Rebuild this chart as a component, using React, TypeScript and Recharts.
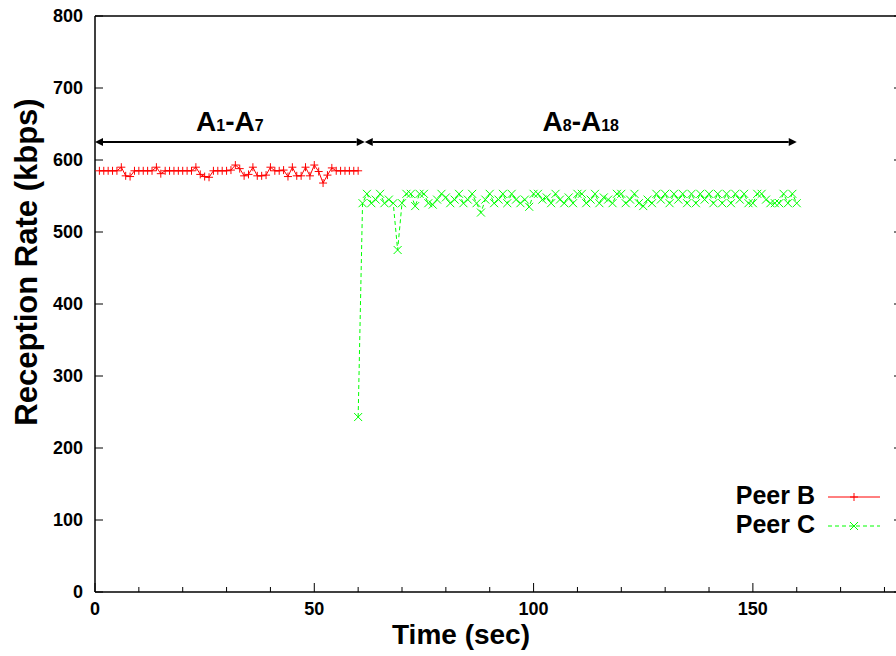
import React from 'react';
import { LineChart, Line, XAxis, YAxis, ReferenceLine, Legend } from 'recharts';

// Peer B: one sample per second, starting at t = 1 s
const peerBStart = 1;
const peerBRate = [
  585, 585, 585, 585, 585, 590, 578, 577, 585, 585,
  585, 585, 585, 590, 581, 585, 585, 585, 585, 585,
  585, 585, 590, 580, 577, 576, 585, 585, 585, 585,
  586, 593, 588, 578, 580, 590, 578, 578, 579, 590,
  585, 585, 586, 577, 590, 578, 578, 590, 578, 593,
  584, 568, 579, 589, 585, 585, 585, 585, 585, 585,
];

// Peer C: one sample per second, starting at t = 60 s
const peerCStart = 60;
const peerCRate = [
  243, 540, 553, 540, 545, 553, 540, 545, 540, 475,
  540, 553, 553, 536, 553, 553, 540, 538, 545, 553,
  548, 540, 545, 553, 540, 545, 553, 540, 527, 545,
  553, 540, 545, 553, 540, 553, 545, 540, 545, 535,
  553, 553, 545, 548, 540, 553, 545, 540, 548, 540,
  553, 553, 540, 545, 553, 540, 548, 545, 540, 553,
  553, 540, 545, 553, 540, 536, 545, 540, 553, 545,
  553, 540, 553, 545, 553, 540, 553, 540, 553, 545,
  553, 540, 553, 540, 553, 540, 553, 545, 553, 540,
  540, 553, 553, 545, 540, 540, 540, 553, 540, 553,
  540,
];

const xTicks = [0, 10, 20, 30, 40, 50, 60, 70, 80, 90, 100, 110, 120, 130, 140, 150, 160, 170, 180];
const xMajor = [0, 50, 100, 150];
const yTicks = [0, 100, 200, 300, 400, 500, 600, 700, 800];

// phase annotations (A1-A7, A8-A18)
const phaseFrom = [0, 61.5];
const phaseTo = [61.5, 160];
const phaseLevel = 625;
const phaseSub = [['1', '7'], ['8', '18']];

const peerBData = peerBRate.map((rate, i) => ({ time: peerBStart + i, rate }));
const peerCData = peerCRate.map((rate, i) => ({ time: peerCStart + i, rate }));

const FONT = '"Liberation Sans", Arial, Helvetica, sans-serif';
const RED = '#ff0000';
const GREEN = '#00ff00';

const BottomTick = (props: any) => {
  const { x, y, payload } = props;
  const major = xMajor.includes(payload.value);
  return (
    <g>
      <line x1={x} y1={y} x2={x} y2={y - (major ? 9 : 5)} stroke="#000" strokeWidth={1} />
      {major && (
        <text x={x} y={y + 23} textAnchor="middle" fontFamily={FONT} fontWeight="bold" fontSize={18} fill="#000">
          {payload.value}
        </text>
      )}
    </g>
  );
};

const TopTick = (props: any) => {
  const { x, y, payload } = props;
  const major = xMajor.includes(payload.value);
  return <line x1={x} y1={y} x2={x} y2={y + (major ? 9 : 5)} stroke="#000" strokeWidth={1} />;
};

const LeftTick = (props: any) => {
  const { x, y, payload } = props;
  return (
    <g>
      <line x1={x} y1={y} x2={x + 8} y2={y} stroke="#000" strokeWidth={1} />
      <text x={x - 12} y={y + 6} textAnchor="end" fontFamily={FONT} fontWeight="bold" fontSize={18} fill="#000">
        {payload.value}
      </text>
    </g>
  );
};

const RightTick = (props: any) => {
  const { x, y } = props;
  return <line x1={x} y1={y} x2={x - 8} y2={y} stroke="#000" strokeWidth={1} />;
};

const PlusDot = (props: any) => {
  const { cx, cy, index } = props;
  if (cx == null || cy == null) return <g key={`b-${index}`} />;
  return (
    <path
      key={`b-${index}`}
      d={`M${cx - 4},${cy}H${cx + 4}M${cx},${cy - 4}V${cy + 4}`}
      stroke={RED}
      strokeWidth={1}
      fill="none"
    />
  );
};

const CrossDot = (props: any) => {
  const { cx, cy, index } = props;
  if (cx == null || cy == null) return <g key={`c-${index}`} />;
  return (
    <path
      key={`c-${index}`}
      d={`M${cx - 4},${cy - 4}L${cx + 4},${cy + 4}M${cx - 4},${cy + 4}L${cx + 4},${cy - 4}`}
      stroke={GREEN}
      strokeWidth={1}
      fill="none"
    />
  );
};

// double-headed arrow with the phase label above it
const PhaseArrow = (props: any, sub: string[]) => {
  const { x1, y1, x2 } = props;
  const head = 8;
  const half = 4;
  const mid = (x1 + x2) / 2;
  return (
    <g>
      <line x1={x1 + head} y1={y1} x2={x2 - head} y2={y1} stroke="#000" strokeWidth={2} />
      <polygon points={`${x1},${y1} ${x1 + head},${y1 - half} ${x1 + head},${y1 + half}`} fill="#000" />
      <polygon points={`${x2},${y1} ${x2 - head},${y1 - half} ${x2 - head},${y1 + half}`} fill="#000" />
      <text x={mid} y={y1 - 11} textAnchor="middle" fontFamily={FONT} fontWeight="bold" fontSize={28} fill="#000">
        <tspan>A</tspan>
        <tspan fontSize={16}>{sub[0]}</tspan>
        <tspan>-A</tspan>
        <tspan fontSize={16}>{sub[1]}</tspan>
      </text>
    </g>
  );
};

const LegendBox = (props: any) => {
  const { payload } = props;
  return (
    <svg width={200} height={64}>
      {(payload || []).map((entry: any, i: number) => {
        const ly = 17 + i * 29;
        const isB = i === 0;
        return (
          <g key={entry.value}>
            <text x={115} y={ly + 7} textAnchor="end" fontFamily={FONT} fontWeight="bold" fontSize={25} fill="#000">
              {entry.value}
            </text>
            <line
              x1={128}
              y1={ly}
              x2={180}
              y2={ly}
              stroke={isB ? RED : GREEN}
              strokeWidth={1}
              strokeDasharray={isB ? undefined : '4 3'}
            />
            {isB ? (
              <path d={`M150,${ly}H158M154,${ly - 4}V${ly + 4}`} stroke={RED} strokeWidth={1} />
            ) : (
              <path d={`M150,${ly - 4}L158,${ly + 4}M150,${ly + 4}L158,${ly - 4}`} stroke={GREEN} strokeWidth={1} />
            )}
          </g>
        );
      })}
    </svg>
  );
};

const XTitle = (props: any) => {
  const { viewBox } = props;
  return (
    <text x={461} y={viewBox.y + 52} textAnchor="middle" fontFamily={FONT} fontWeight="bold" fontSize={28} fill="#000">
      Time (sec)
    </text>
  );
};

const YTitle = () => (
  <text
    x={37}
    y={262}
    transform="rotate(-90 37 262)"
    textAnchor="middle"
    fontFamily={FONT}
    fontWeight="bold"
    fontSize={31}
    fill="#000"
  >
    Reception Rate (kbps)
  </text>
);

export default function App() {
  return (
    <div style={{ position: 'absolute', left: 0, top: 0, width: 896, height: 656, overflow: 'hidden', background: '#fff' }}>
      <LineChart width={910} height={656} margin={{ top: 0, right: 0, bottom: 0, left: 0 }}>
        <XAxis
          dataKey="time"
          type="number"
          domain={[0, 184]}
          ticks={xTicks}
          interval={0}
          height={64}
          tickSize={0}
          tickMargin={0}
          tickLine={false}
          tick={BottomTick}
          axisLine={{ stroke: '#000', strokeWidth: 1.5 }}
          allowDataOverflow
          label={<XTitle />}
        />
        <XAxis
          xAxisId="top"
          orientation="top"
          type="number"
          domain={[0, 184]}
          ticks={xTicks}
          interval={0}
          height={16}
          tickSize={0}
          tickMargin={0}
          tickLine={false}
          tick={TopTick}
          axisLine={{ stroke: '#000', strokeWidth: 1.5 }}
          allowDataOverflow
        />
        <YAxis
          type="number"
          domain={[0, 800]}
          ticks={yTicks}
          interval={0}
          width={95}
          tickSize={0}
          tickMargin={0}
          tickLine={false}
          tick={LeftTick}
          axisLine={{ stroke: '#000', strokeWidth: 1.5 }}
          allowDataOverflow
          label={<YTitle />}
        />
        <YAxis
          yAxisId="right"
          orientation="right"
          type="number"
          domain={[0, 800]}
          ticks={yTicks}
          interval={0}
          width={8}
          tickSize={0}
          tickMargin={0}
          tickLine={false}
          tick={RightTick}
          axisLine={{ stroke: '#000', strokeWidth: 1.5 }}
          allowDataOverflow
        />
        {phaseFrom.map((from, i) => (
          <ReferenceLine
            key={`phase-${i}`}
            segment={[
              { x: from, y: phaseLevel },
              { x: phaseTo[i], y: phaseLevel },
            ]}
            ifOverflow="visible"
            shape={(p: any) => PhaseArrow(p, phaseSub[i])}
          />
        ))}
        <Line
          name="Peer B"
          data={peerBData}
          dataKey="rate"
          type="linear"
          stroke={RED}
          strokeWidth={1}
          dot={PlusDot}
          activeDot={false}
          isAnimationActive={false}
        />
        <Line
          name="Peer C"
          data={peerCData}
          dataKey="rate"
          type="linear"
          stroke={GREEN}
          strokeWidth={1}
          strokeDasharray="4 3"
          dot={CrossDot}
          activeDot={false}
          isAnimationActive={false}
        />
        <Legend
          layout="vertical"
          align="center"
          verticalAlign="middle"
          content={LegendBox}
          wrapperStyle={{ position: 'absolute', left: 700, top: 480, width: 200, height: 64 }}
        />
      </LineChart>
    </div>
  );
}
